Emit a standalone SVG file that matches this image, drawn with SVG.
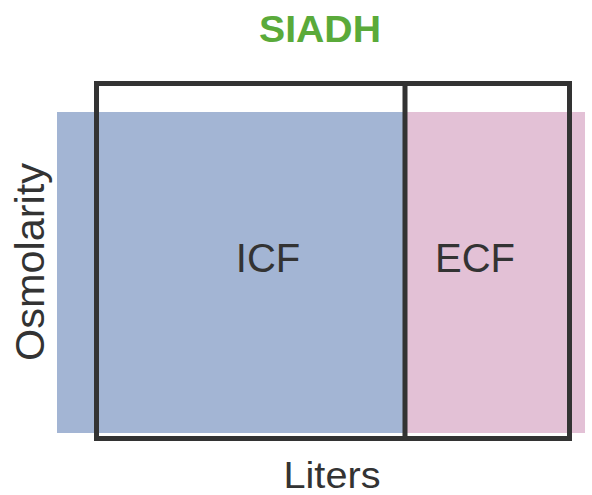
<svg xmlns="http://www.w3.org/2000/svg" width="592" height="495" viewBox="0 0 592 495">
<style>
.lbl{font-family:"Liberation Sans",Arial,sans-serif;fill:#333;}
.outline{fill:none;stroke:#333;stroke-width:5;}
</style>
<rect width="592" height="495" fill="#fff"/>
<g id="title"><text x="320" y="42" text-anchor="middle" font-family="Liberation Sans, Arial, sans-serif" font-weight="bold" font-size="37" fill="#5aaa3a" textLength="122" lengthAdjust="spacingAndGlyphs">SIADH</text></g>
<g id="icf">
<rect x="57" y="112" width="347" height="321" fill="#a3b5d4"/>
<text class="lbl" x="268" y="272" text-anchor="middle" font-size="40">ICF</text>
</g>
<g id="ecf">
<rect x="404" y="112" width="181" height="321" fill="#e3c1d6"/>
<text class="lbl" x="475" y="272" text-anchor="middle" font-size="40">ECF</text>
</g>
<g id="frame">
<rect class="outline" x="96.5" y="83.5" width="473" height="355"/>
<line class="outline" x1="405" y1="83" x2="405" y2="439"/>
</g>
<g id="axes">
<text class="lbl" x="332" y="488" text-anchor="middle" font-size="36" textLength="97" lengthAdjust="spacingAndGlyphs">Liters</text>
<text class="lbl" transform="translate(44,262) rotate(-90)" x="0" y="0" text-anchor="middle" font-size="40" textLength="198" lengthAdjust="spacingAndGlyphs">Osmolarity</text>
</g>
</svg>
